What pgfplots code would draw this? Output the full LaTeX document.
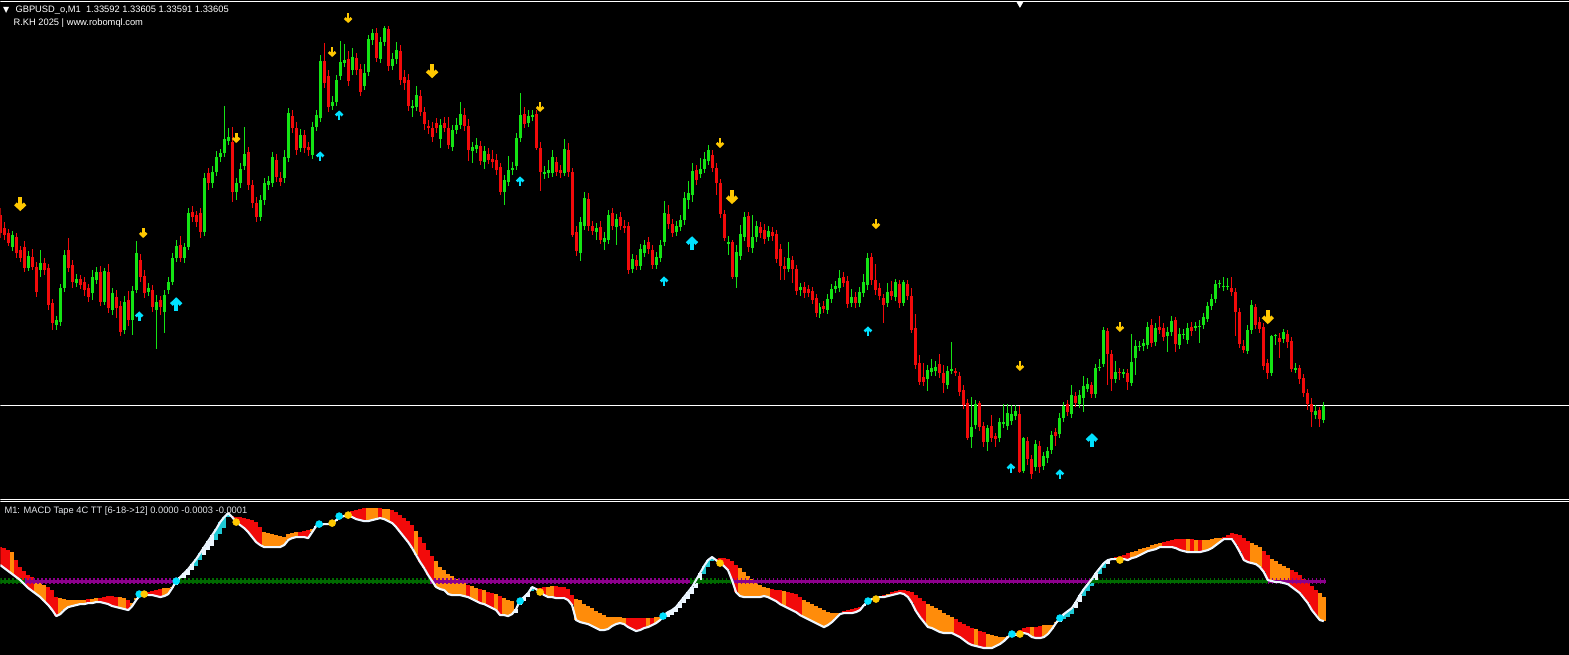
\documentclass[border=0pt]{standalone}
\usepackage{pgfplots}
\pgfplotsset{compat=1.18}
\usepackage{pgfplotstable}
\usepackage{fontspec}
\setmainfont{Liberation Sans}
\newfontfamily\symfont{DejaVu Sans}
\definecolor{cgreen}{RGB}{20,228,20}
\definecolor{cred}{RGB}{242,10,10}
\definecolor{corange}{RGB}{255,140,10}
\definecolor{cwhite}{RGB}{236,246,255}
\definecolor{ccyan}{RGB}{30,200,212}
\definecolor{cyel}{RGB}{255,200,0}
\definecolor{carr}{RGB}{0,225,255}
\definecolor{zgreen}{RGB}{0,105,0}
\definecolor{zpurple}{RGB}{140,0,140}
\definecolor{ltxt}{RGB}{225,228,232}

\pgfdeclareplotmark{dnarrow}{%
  \pgfsetlinewidth{0.55\pgfplotmarksize}\pgfsetmiterjoin
  \pgfpathmoveto{\pgfqpoint{0pt}{\pgfplotmarksize}}%
  \pgfpathlineto{\pgfqpoint{0pt}{-0.6\pgfplotmarksize}}%
  \pgfusepathqstroke
  \pgfpathmoveto{\pgfqpoint{-0.7\pgfplotmarksize}{0.05\pgfplotmarksize}}%
  \pgfpathlineto{\pgfqpoint{0pt}{-0.62\pgfplotmarksize}}%
  \pgfpathlineto{\pgfqpoint{0.7\pgfplotmarksize}{0.05\pgfplotmarksize}}%
  \pgfusepathqstroke}
\pgfdeclareplotmark{uparrow}{%
  \pgfsetlinewidth{0.55\pgfplotmarksize}\pgfsetmiterjoin
  \pgfpathmoveto{\pgfqpoint{0pt}{-\pgfplotmarksize}}%
  \pgfpathlineto{\pgfqpoint{0pt}{0.6\pgfplotmarksize}}%
  \pgfusepathqstroke
  \pgfpathmoveto{\pgfqpoint{-0.7\pgfplotmarksize}{-0.05\pgfplotmarksize}}%
  \pgfpathlineto{\pgfqpoint{0pt}{0.62\pgfplotmarksize}}%
  \pgfpathlineto{\pgfqpoint{0.7\pgfplotmarksize}{-0.05\pgfplotmarksize}}%
  \pgfusepathqstroke}

% candles: rows of the screen (0 = top), one candle every 4 px
\pgfplotstableread{
o h l c
215 208 238 233
228 222 240 235
233 229 246 243
247 231 251 235
237 233 258 253
250 246 262 258
247 241 272 268
268 251 271 256
257 249 270 267
267 262 297 292
270 250 277 263
263 258 275 270
268 264 310 305
303 299 330 323
325 316 330 320
322 284 326 288
288 250 292 255
250 238 272 268
265 260 288 282
283 274 287 279
279 275 289 285
282 277 296 290
288 284 302 297
293 270 300 277
280 267 284 272
272 266 306 302
302 268 305 271
272 264 313 308
310 288 315 293
297 290 318 308
306 301 336 332
330 296 334 302
300 291 326 320
320 286 335 291
290 241 293 253
260 254 282 277
276 270 298 293
292 283 296 288
290 285 312 307
310 295 349 302
300 296 315 307
312 290 333 295
290 277 294 282
282 253 285 258
258 240 262 246
245 236 262 258
258 243 263 247
247 208 250 213
212 206 222 217
215 211 227 222
213 208 238 232
232 173 236 178
173 168 190 183
183 166 188 172
172 151 176 157
157 149 162 153
153 106 157 139
141 128 145 137
142 127 202 192
192 178 200 183
183 163 188 169
166 127 170 154
152 147 190 185
185 180 208 203
203 197 222 217
217 195 221 200
200 178 205 183
185 176 190 181
183 152 187 157
160 154 182 177
178 172 186 182
178 150 183 157
158 108 162 113
116 110 133 128
128 122 155 150
148 129 152 135
135 130 153 148
147 142 156 150
155 122 159 127
127 110 131 115
118 55 122 61
61 43 88 83
76 70 112 107
106 96 110 102
102 75 106 80
76 41 80 62
63 44 67 60
59 51 86 81
70 48 75 57
58 53 75 70
69 64 96 92
86 64 90 73
72 35 76 39
40 29 45 33
33 28 62 58
59 37 63 42
42 26 46 28
29 26 71 66
66 53 70 59
59 42 64 50
51 45 85 80
77 70 90 83
80 74 111 106
108 100 117 106
107 86 111 95
96 90 116 112
112 107 130 124
126 120 134 128
128 122 142 137
123 118 133 128
139 119 148 125
123 117 132 128
128 117 149 145
147 125 151 130
130 118 134 125
125 102 129 114
115 108 131 126
126 119 161 150
151 142 163 147
149 138 153 145
146 141 165 161
162 146 169 151
154 148 164 160
159 150 168 162
160 154 175 170
167 163 195 192
192 175 205 180
182 156 186 170
170 162 175 168
166 133 170 138
138 93 142 115
114 107 128 124
123 110 127 116
117 110 121 115
114 110 150 148
148 142 191 172
174 166 179 172
173 160 178 170
173 150 177 157
162 157 176 172
170 165 178 173
173 139 176 149
150 143 177 172
172 168 237 235
232 226 256 251
253 217 261 222
226 192 230 198
199 193 231 226
226 221 235 231
232 223 240 228
227 221 244 240
242 232 250 238
240 210 244 215
213 208 230 226
227 214 245 219
217 212 230 226
226 220 233 228
226 222 274 270
269 254 273 259
260 255 270 266
266 244 270 249
253 240 257 245
242 237 254 249
250 245 269 265
265 252 269 257
258 240 262 245
242 201 246 213
214 205 229 224
224 219 237 233
232 221 236 226
227 215 231 220
220 192 225 198
200 181 209 193
195 163 202 171
170 165 185 180
174 158 178 169
169 152 173 159
161 145 165 150
155 150 172 168
168 163 195 183
183 179 218 214
214 210 241 238
244 236 255 242
242 240 279 277
277 245 288 252
256 225 260 234
237 212 241 217
216 212 252 247
248 215 253 237
237 221 242 226
227 222 238 233
230 224 244 239
237 226 241 231
232 227 241 236
234 230 263 259
249 244 280 266
266 257 280 269
269 242 272 258
260 256 283 269
269 265 295 291
290 283 296 287
287 282 298 293
289 285 297 293
291 287 304 300
298 294 317 313
314 303 318 307
306 301 313 309
310 294 314 299
299 284 303 289
289 281 293 286
288 270 292 278
277 272 287 283
281 276 308 304
303 289 307 297
297 292 308 303
303 287 307 292
293 274 297 282
285 253 290 258
257 253 285 280
280 264 295 290
288 283 300 296
298 294 323 305
303 283 307 292
291 281 300 296
297 279 301 282
284 280 308 303
303 280 306 282
284 280 300 296
296 288 333 330
328 314 369 365
363 355 385 382
377 363 386 382
379 365 391 370
372 359 376 368
371 361 376 367
364 354 378 373
373 365 393 383
385 366 389 371
371 342 374 369
371 368 376 373
376 372 396 392
390 385 409 405
403 399 440 438
437 397 448 427
425 400 429 404
403 401 431 427
426 422 447 442
442 425 451 428
426 415 442 438
436 433 447 439
438 418 442 422
424 404 428 422
426 404 430 413
421 405 425 414
416 405 420 411
414 406 473 472
471 437 473 438
441 437 465 459
459 455 479 474
467 440 471 444
446 441 473 467
466 452 470 456
458 447 463 451
450 431 454 435
432 428 446 436
434 413 438 418
418 402 422 406
404 400 416 412
414 385 418 395
396 392 407 403
404 390 408 395
398 376 412 386
389 378 392 384
385 382 398 394
394 364 398 368
368 359 371 367
364 327 367 330
331 328 385 354
354 350 391 379
379 361 383 372
372 368 380 373
374 369 378 372
373 369 390 382
383 334 386 362
358 340 375 346
347 341 351 346
346 339 351 343
345 322 349 327
325 319 347 343
342 323 346 328
327 316 334 330
328 323 341 337
336 327 352 332
332 316 336 321
320 317 352 344
345 328 349 334
335 329 339 334
340 323 344 328
327 322 336 331
328 322 331 326
327 320 343 326
325 313 329 317
319 302 322 306
306 294 310 299
299 280 303 284
284 280 288 283
287 277 291 286
287 278 290 286
288 277 296 292
292 288 336 312
312 308 348 344
346 340 353 350
351 325 354 330
330 300 334 305
307 304 329 325
322 317 333 329
327 323 370 366
363 359 379 373
373 335 376 336
336 334 345 335
338 333 358 342
339 329 343 332
334 330 348 342
341 337 372 369
370 363 373 368
368 365 384 379
378 374 397 393
393 389 410 404
404 398 427 412
415 405 419 411
410 407 427 419
420 402 423 406
}\candles

% MACD tape: w = white line row, s = other edge row, k = 0 orange, 1 red, 2 white, 3 cyan
\pgfplotstableread{
w s k
565 547 1
568 548 1
571 550 1
574 552 0
577 560 1
580 567 1
584 571 1
588 575 1
591 577 1
594 580 0
597 583 0
601 585 0
605 587 1
610 590 1
616 597 1
614 598 0
610 599 0
607 600 0
606 600 0
605 600 0
604 600 0
604 600 0
603 599 1
603 599 0
602 598 0
602 598 1
603 597 1
604 596 1
606 596 1
607 597 1
608 597 0
609 598 0
610 600 1
606 603 0
600 598 0
595 593 0
594 593 0
595 592 1
595 591 1
596 590 1
597 589 1
596 588 0
594 588 0
588 587 0
581 585 2
577 582 2
573 578 2
569 575 2
564 570 2
559 566 3
553 560 3
547 555 2
541 550 2
535 546 2
529 540 3
522 534 3
517 528 3
513 517 3
517 516 1
522 517 1
525 517 1
528 518 1
532 519 1
537 520 1
542 522 1
545 527 1
547 532 0
547 533 0
547 534 0
547 535 0
547 536 0
545 537 0
540 534 0
538 533 0
537 532 0
537 532 1
537 531 1
538 530 1
532 529 0
526 527 2
525 526 2
524 525 2
524 525 2
523 524 2
520 521 2
517 518 2
516 517 2
515 513 1
517 511 1
519 510 1
520 509 1
521 508 1
521 508 0
520 508 0
519 508 0
518 508 1
519 509 0
521 509 0
523 510 1
527 512 1
532 515 1
537 518 1
542 521 1
548 525 1
555 531 0
562 537 1
568 543 1
575 550 1
581 556 1
587 561 0
589 567 0
590 570 0
594 574 0
595 576 0
595 579 0
595 581 0
596 583 0
597 585 1
599 586 0
601 588 0
603 589 1
604 590 0
606 592 1
608 593 1
610 594 0
615 596 1
615 598 0
616 600 0
614 601 0
609 613 2
600 605 2
597 601 2
593 597 2
587 591 3
589 588 1
592 588 1
595 587 1
597 587 0
597 586 0
598 586 1
598 587 1
598 587 1
600 589 1
605 595 1
620 599 0
622 600 0
623 604 0
624 606 0
626 608 0
628 611 0
630 613 0
630 615 0
629 617 0
626 617 0
624 617 0
623 617 0
624 618 0
627 618 1
629 618 1
631 618 1
630 618 1
628 618 1
627 618 0
625 618 1
623 617 0
620 617 0
615 619 2
612 617 2
610 615 2
607 612 2
602 608 2
597 603 2
592 599 2
587 594 2
580 588 2
573 581 2
566 574 3
560 567 3
557 561 3
560 559 1
563 558 1
566 558 1
570 559 1
580 561 1
592 565 1
596 568 0
597 572 0
597 576 0
597 579 0
597 583 0
597 585 0
596 587 0
597 588 0
599 589 1
601 590 1
604 590 1
606 591 0
608 592 1
610 593 1
612 594 1
615 597 1
617 600 0
619 602 0
621 604 0
623 606 0
625 608 0
627 610 0
625 612 0
622 613 0
618 613 0
614 613 0
613 611 1
613 610 1
613 609 1
612 608 1
610 607 1
605 606 2
601 603 2
599 600 2
598 597 1
597 596 1
597 595 1
596 594 0
595 592 1
594 591 1
593 590 1
594 590 1
597 591 1
603 592 1
611 595 1
617 598 1
622 601 1
627 604 0
628 606 0
630 608 0
632 610 0
633 613 0
633 615 0
633 617 0
635 619 1
637 622 1
640 624 1
643 626 1
645 628 1
646 629 0
647 631 1
648 632 1
648 634 0
648 635 0
646 636 0
644 637 0
641 637 0
637 636 0
634 636 2
634 636 2
634 630 1
633 628 1
634 627 1
637 627 0
638 627 1
638 626 1
637 625 0
634 625 0
629 625 0
623 622 0
618 622 2
614 619 3
611 617 3
608 614 3
602 608 2
595 602 2
589 596 3
584 591 3
579 586 3
573 580 2
568 574 3
563 568 3
560 564 2
559 558 1
559 557 1
559 556 1
559 555 1
560 553 1
558 552 0
557 551 0
555 549 0
553 548 0
551 547 0
550 545 0
549 544 0
547 543 0
547 542 1
547 541 1
547 540 1
548 539 1
550 539 1
551 539 1
552 539 0
552 539 1
552 540 0
552 540 1
551 540 0
550 540 0
548 539 0
545 538 0
542 538 0
539 537 1
539 535 1
539 533 1
545 534 1
552 535 1
560 538 1
562 541 1
563 543 0
564 545 0
567 547 0
572 551 1
580 555 1
581 559 0
582 561 0
582 564 0
583 566 0
584 568 0
587 570 1
590 572 1
593 575 1
598 579 1
603 582 1
610 586 1
615 590 1
620 593 0
621 597 0
}\macd

\begin{document}
\begin{tikzpicture}
\begin{axis}[
  scale only axis, width=1176.75pt, height=490.5pt,
  xmin=0, xmax=1569, ymin=0, ymax=654, y dir=reverse,
  xtick=\empty, ytick=\empty,
  axis line style={draw=black},
  axis background/.style={fill=black},
]
% frame lines
\addplot[white, line width=0.75pt] coordinates {(0,1) (1569,1)};
\addplot[white, line width=0.75pt] coordinates {(0,499) (1569,499)};
\addplot[white, line width=0.75pt] coordinates {(0,501) (1569,501)};
\addplot[white, line width=0.75pt] coordinates {(0,405) (1569,405)};
\addplot[only marks, mark=triangle*, mark size=3pt, white, mark options={rotate=180}] coordinates {(1020,3)};

% wicks
\addplot[draw=none, mark=none, error bars/.cd, y dir=plus, y explicit, error mark=none,
  error bar style={draw=cgreen, line width=0.75pt}]
  table[x expr=\coordindex*4, y expr=\thisrow{h}, y error plus expr={(\thisrow{c}<\thisrow{o})*(\thisrow{l}-\thisrow{h})}] {\candles};
\addplot[draw=none, mark=none, error bars/.cd, y dir=plus, y explicit, error mark=none,
  error bar style={draw=cred, line width=0.75pt}]
  table[x expr=\coordindex*4, y expr=\thisrow{h}, y error plus expr={(\thisrow{c}>\thisrow{o})*(\thisrow{l}-\thisrow{h})}] {\candles};
% bodies
\addplot[draw=none, mark=none, error bars/.cd, y dir=plus, y explicit, error mark=none,
  error bar style={draw=cgreen, line width=2.25pt}]
  table[x expr=\coordindex*4, y expr=\thisrow{c}, y error plus expr={(\thisrow{c}<\thisrow{o})*(\thisrow{o}-\thisrow{c})}] {\candles};
\addplot[draw=none, mark=none, error bars/.cd, y dir=plus, y explicit, error mark=none,
  error bar style={draw=cred, line width=2.25pt}]
  table[x expr=\coordindex*4, y expr=\thisrow{o}, y error plus expr={(\thisrow{c}>\thisrow{o})*(\thisrow{c}-\thisrow{o})}] {\candles};

% arrows
\addplot[only marks, mark=dnarrow, mark size=5.2pt, cyel] coordinates {(20,204) (432,71) (732,197) (1268,317)};
\addplot[only marks, mark=dnarrow, mark size=3.6pt, cyel] coordinates {(143,233) (236,138) (332,52) (348,18) (540,107) (720,143) (876,224) (1020,366) (1120,327)};
\addplot[only marks, mark=uparrow, mark size=5.2pt, carr] coordinates {(176,304) (692,243) (1092,440)};
\addplot[only marks, mark=uparrow, mark size=3.6pt, carr] coordinates {(139,316) (320,156) (339,115) (520,181) (664,281) (868,331) (1011,468) (1060,474)};

% MACD tape bars
\addplot[draw=none, mark=none, error bars/.cd, y dir=plus, y explicit, error mark=none,
  error bar style={draw=corange, line width=3pt}]
  table[x expr=\coordindex*4, y expr={min(\thisrow{w},\thisrow{s})}, y error plus expr={(\thisrow{k}==0)*abs(\thisrow{w}-\thisrow{s})}] {\macd};
\addplot[draw=none, mark=none, error bars/.cd, y dir=plus, y explicit, error mark=none,
  error bar style={draw=cred, line width=3pt}]
  table[x expr=\coordindex*4, y expr={min(\thisrow{w},\thisrow{s})}, y error plus expr={(\thisrow{k}==1)*abs(\thisrow{w}-\thisrow{s})}] {\macd};
\addplot[draw=none, mark=none, error bars/.cd, y dir=plus, y explicit, error mark=none,
  error bar style={draw=cwhite, line width=3pt}]
  table[x expr=\coordindex*4, y expr={min(\thisrow{w},\thisrow{s})}, y error plus expr={(\thisrow{k}==2)*abs(\thisrow{w}-\thisrow{s})}] {\macd};
\addplot[draw=none, mark=none, error bars/.cd, y dir=plus, y explicit, error mark=none,
  error bar style={draw=ccyan, line width=3pt}]
  table[x expr=\coordindex*4, y expr={min(\thisrow{w},\thisrow{s})}, y error plus expr={(\thisrow{k}==3)*abs(\thisrow{w}-\thisrow{s})}] {\macd};

% zero line
\pgfplotsset{zl/.style={line width=2.2pt}, zd/.style={line width=4.6pt, dash pattern=on 1.1pt off 1.9pt}}
\addplot[zgreen, zl] coordinates {(0,581) (25,581)};
\addplot[zgreen, zd] coordinates {(0,581) (25,581)};
\addplot[zpurple, zl] coordinates {(25,581) (176,581)};
\addplot[zpurple, zd] coordinates {(25,581) (176,581)};
\addplot[zgreen, zl] coordinates {(176,581) (430,581)};
\addplot[zgreen, zd] coordinates {(176,581) (430,581)};
\addplot[zpurple, zl] coordinates {(430,581) (690,581)};
\addplot[zpurple, zd] coordinates {(430,581) (690,581)};
\addplot[zgreen, zl] coordinates {(690,581) (733,581)};
\addplot[zgreen, zd] coordinates {(690,581) (733,581)};
\addplot[zpurple, zl] coordinates {(733,581) (1090,581)};
\addplot[zpurple, zd] coordinates {(733,581) (1090,581)};
\addplot[zgreen, zl] coordinates {(1090,581) (1268,581)};
\addplot[zgreen, zd] coordinates {(1090,581) (1268,581)};
\addplot[zpurple, zl] coordinates {(1268,581) (1326,581)};
\addplot[zpurple, zd] coordinates {(1268,581) (1326,581)};

% white line
\addplot[cwhite, line width=1.6pt, line join=round] table[x expr=\coordindex*4, y=w] {\macd};

% cross dots
\addplot[only marks, mark=*, mark size=2.6pt, carr, mark options={draw=carr}] coordinates {(139,594) (176,581) (319,524) (339,516) (520,601) (663,616) (868,601) (1012,634) (1060,618)};
\addplot[only marks, mark=*, mark size=2.6pt, cyel, mark options={draw=cyel}] coordinates {(144,594) (236,522) (332,523) (348,515) (540,592) (720,563) (876,599) (1020,634) (1120,560)};

% texts
\node[anchor=base west, inner sep=0pt, white, font=\symfont\fontsize{6pt}{7pt}\selectfont] at (axis cs:2.5,12) {▼};
\node[anchor=base west, inner sep=0pt, white, font=\fontsize{7pt}{8pt}\selectfont] at (axis cs:15,12.3) {GBPUSD\_o,M1\ \ 1.33592 1.33605 1.33591 1.33605};
\node[anchor=base west, inner sep=0pt, white, font=\fontsize{7pt}{8pt}\selectfont] at (axis cs:13,25.5) {R.KH 2025 | www.robomql.com};
\node[anchor=base west, inner sep=0pt, ltxt, font=\fontsize{7pt}{8pt}\selectfont] at (axis cs:4,513.5) {M1: MACD Tape 4C TT [6-18->12] 0.0000 -0.0003 -0.0001};
\end{axis}
\end{tikzpicture}
\end{document}
